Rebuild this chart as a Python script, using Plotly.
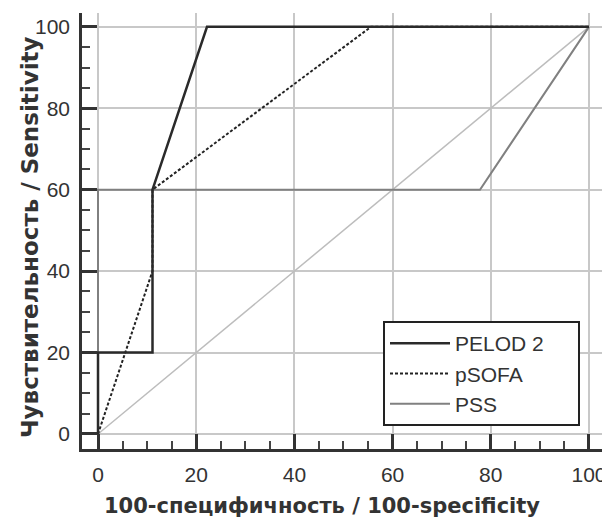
import plotly.graph_objects as go

# ROC curve data (x = 100-specificity, y = sensitivity)
pelod_x = [0, 0, 11.1, 11.1, 22.2, 100]
pelod_y = [0, 20, 20, 60, 100, 100]

psofa_x = [0, 11.1, 11.1, 55.6, 100]
psofa_y = [0, 40, 60, 100, 100]

pss_x = [0, 0, 77.8, 100]
pss_y = [0, 60, 60, 100]

diag_x = [0, 100]
diag_y = [0, 100]

tick_vals = [0, 20, 40, 60, 80, 100]
tick_text = ["0", "20", "40", "60", "80", "100"]

series_names = ["PELOD 2", "pSOFA", "PSS"]

FONT = "Liberation Sans, Arial, sans-serif"
TFONT = "DejaVu Sans, sans-serif"
TXT = "#333333"
PAD = "\u00a0" * 5

fig = go.Figure()
fig.add_trace(go.Scatter(x=diag_x, y=diag_y, mode="lines",
                         line=dict(color="#bdbdbd", width=1.5),
                         showlegend=False, hoverinfo="skip"))
fig.add_trace(go.Scatter(x=pss_x, y=pss_y, mode="lines", name=series_names[2],
                         line=dict(color="#808080", width=2)))
fig.add_trace(go.Scatter(x=psofa_x, y=psofa_y, mode="lines", name=series_names[1],
                         line=dict(color="#222222", width=2, dash="3px,2px")))
fig.add_trace(go.Scatter(x=pelod_x, y=pelod_y, mode="lines", name=series_names[0] + PAD,
                         line=dict(color="#2a2a2a", width=2.5)))

axis_common = dict(
    tickvals=tick_vals, ticktext=tick_text,
    showgrid=True, gridcolor="#c8c8c8", gridwidth=1.5,
    zeroline=False,
    showline=True, linecolor="#333333", linewidth=2.5,
    ticks="inside", ticklen=15, tickwidth=2.5, tickcolor="#333333",
    minor=dict(dtick=5, ticks="inside", ticklen=8, tickwidth=1.5,
               tickcolor="#444444", showgrid=False),
    tickfont=dict(family=FONT, size=21, color=TXT),
    mirror=False, automargin=False,
)

# page body has an 8px margin, so the figure is 8px smaller than the window
W, H = 602, 512
L, R, T, B = 74, 3, 5, 71
PW, PH = W - L - R, H - T - B

fig.update_layout(
    width=W, height=H,
    margin=dict(l=L, r=R, t=T, b=B),
    paper_bgcolor="white", plot_bgcolor="white",
    xaxis=dict(range=[-3.26, 103.67], ticklabelstandoff=5, **axis_common),
    yaxis=dict(range=[-3.69, 103.4], ticklabelstandoff=5, **axis_common),
    legend=dict(
        x=(580 - 82) / PW, y=(449 - 426) / PH, xanchor="right", yanchor="bottom",
        bgcolor="white", bordercolor="#222222", borderwidth=2,
        font=dict(family=FONT, size=21, color=TXT),
        traceorder="reversed",
        tracegroupgap=0,
        itemwidth=60,
    ),
    annotations=[
        dict(text="<b>100-специфичность / 100-specificity</b>",
             xref="paper", yref="paper", x=(322 - 82) / PW, y=-(506 - 449) / PH,
             xanchor="center", yanchor="middle", showarrow=False,
             font=dict(family=TFONT, size=21, color=TXT)),
        dict(text="<b>Чувствительность / Sensitivity</b>",
             xref="paper", yref="paper", x=-(82 - 30) / PW, y=(449 - 237) / PH,
             xanchor="center", yanchor="middle", showarrow=False, textangle=-90,
             font=dict(family=TFONT, size=23, color=TXT)),
    ],
)

fig.write_html("out.html")
